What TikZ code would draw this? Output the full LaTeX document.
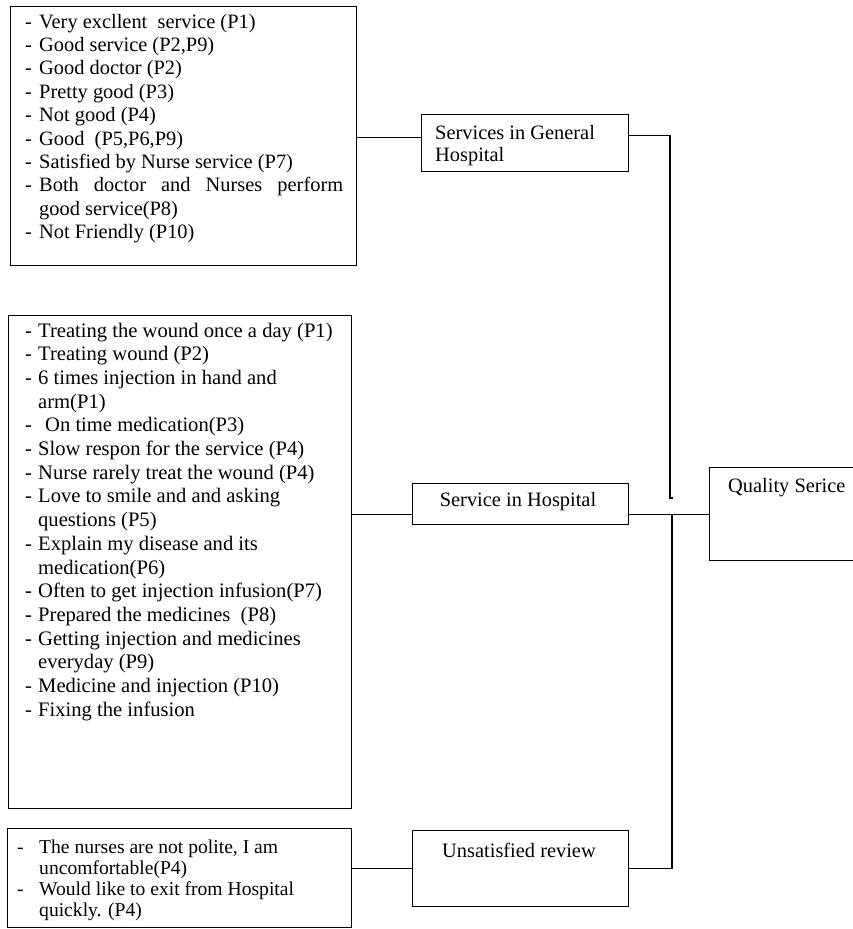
\documentclass[tikz,border=0pt]{standalone}
\usepackage{fontspec}
\setmainfont{Liberation Serif}
\begin{document}
\begin{tikzpicture}[x=1pt,y=-1pt,
  box/.style={draw, line width=1.2pt, inner sep=0pt, anchor=north west},
  conn/.style={line width=1.2pt},
  txt/.style={inner sep=0pt, anchor=base west, font=\fontsize{20.4}{23.4}\selectfont},
  txtb/.style={inner sep=0pt, anchor=base west, font=\fontsize{20.6}{23.7}\selectfont},
  txtc/.style={inner sep=0pt, anchor=base west, font=\fontsize{19.6}{21}\selectfont},
  lbl/.style={inner sep=0pt, anchor=base, font=\fontsize{20.4}{22}\selectfont},
]
\useasboundingbox (0,0) rectangle (853,929);
\clip (0,0) rectangle (853,929);
\fill[white] (0,0) rectangle (853,929);

% boxes
\node[box, minimum width=346pt, minimum height=259pt] (b1) at (10,6) {};
\node[box, minimum width=207pt, minimum height=57pt] (gen) at (421,114) {};
\node[box, minimum width=343pt, minimum height=493pt] (b2) at (8,315) {};
\node[box, minimum width=216pt, minimum height=41pt] (hosp) at (412,483) {};
\node[box, minimum width=344pt, minimum height=99pt] (b3) at (7,828) {};
\node[box, minimum width=216pt, minimum height=76pt] (unsat) at (412,830) {};
\node[box, minimum width=170pt, minimum height=93pt] (qual) at (709,467) {};

% texts
\node[txt] (t1) at (25,28) {\begin{tabular}[t]{@{}p{14pt}@{}l@{}}
-&Very excllent\ \ service (P1)\\
-&Good service (P2,P9)\\
-&Good doctor (P2)\\
-&Pretty good (P3)\\
-&Not good (P4)\\
-&Good\ \ (P5,P6,P9)\\
-&Satisfied by Nurse service (P7)\\
-&\makebox[304pt][s]{Both doctor and Nurses perform}\\
&good service(P8)\\
-&Not Friendly (P10)
\end{tabular}};

\node[txtb] (t2) at (25,337) {\begin{tabular}[t]{@{}p{13pt}@{}l@{}}
-&Treating the wound once a day (P1)\\
-&Treating wound (P2)\\
-&6 times injection in hand and\\
&arm(P1)\\
-&\hspace{7pt}On time medication(P3)\\
-&Slow respon for the service (P4)\\
-&Nurse rarely treat the wound (P4)\\
-&Love to smile and and asking\\
&questions (P5)\\
-&Explain my disease and its\\
&medication(P6)\\
-&Often to get injection infusion(P7)\\
-&Prepared the medicines\ \ (P8)\\
-&Getting injection and medicines\\
&everyday (P9)\\
-&Medicine and injection (P10)\\
-&Fixing the infusion
\end{tabular}};

\node[txtc] (t3) at (17,853) {\begin{tabular}[t]{@{}p{22pt}@{}l@{}}
-&The nurses are not polite, I am\\
&uncomfortable(P4)\\
-&Would like to exit from Hospital\\
&quickly. (P4)
\end{tabular}};

\node[txt, align=left, font=\fontsize{20.4}{22}\selectfont] (tgen) at (435,161) {Services in General\\Hospital};
\node[lbl] (thosp) at (518,506) {Service in Hospital};
\node[lbl] (tunsat) at (519,857) {Unsatisfied review};
\node[txt] (tqual) at (728,492) {Quality Serice};

% connectors
\coordinate (j1) at (670,498);
\coordinate (j2) at (672,513.5);
\draw[conn] ([yshift=-1.5pt]b1.east) -- ([yshift=-1.5pt]b1.east -| gen.west);
\draw[conn] ([yshift=7.5pt]gen.east) -| (j1) -- ++(3,0);
\draw[conn] (b2.east |- qual.west) -- (hosp.west |- qual.west);
\draw[conn] (hosp.east |- qual.west) -- (qual.west);
\draw[conn] (b3.east |- unsat.west) -- (unsat.west);
\draw[conn] (unsat.east) -| (j2);
\end{tikzpicture}
\end{document}
